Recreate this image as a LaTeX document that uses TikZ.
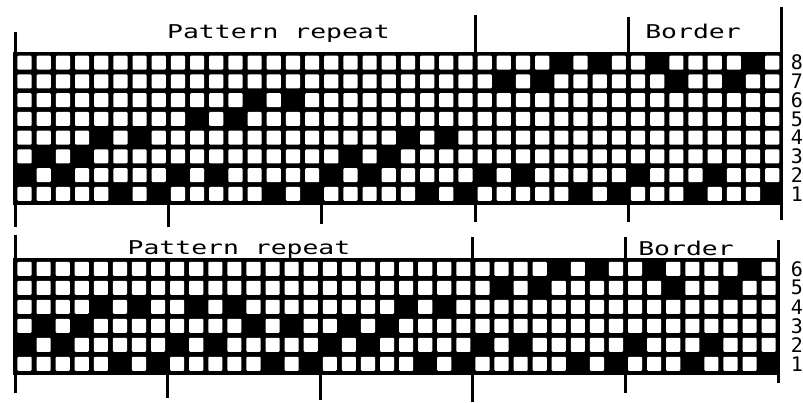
\documentclass[tikz,border=0pt]{standalone}
\usepackage{fontspec}
\setmonofont{DejaVu Sans Mono}
\usetikzlibrary{positioning}

\newcommand{\wide}[1]{\scalebox{1.39}[1]{#1}}

\begin{document}
\begin{tikzpicture}[
        x=1pt, y=-1pt,
        every node/.style={inner sep=0pt},
        title/.style={font=\ttfamily\fontsize{19}{19}\selectfont, anchor=base},
        rowno/.style={font=\ttfamily\fontsize{20}{20}\selectfont},
        tick/.style={line width=3pt},
        hole/.style={fill=white, rounded corners=1pt}
    ]
    \fill[white] (0,0) rectangle (803,403);
    \useasboundingbox (0,0) rectangle (803,403);

    % Upper draft: 8 shafts
    \begin{scope}[shift={(15,53.3)}, x=19.17pt, y=-18.75pt]
        \fill (-0.08,-0.08) rectangle (40.08,8.08);
        \foreach \c in {0,...,39}
            \foreach \r in {0,...,7}
                \fill[hole] (\c+0.13,\r+0.13) rectangle (\c+0.87,\r+0.87);
        \foreach \r/\cols in {0/{28,30,33,38}, 1/{25,27,34,37}, 2/{12,14},
                3/{9,11}, 4/{4,6,20,22}, 5/{1,3,17,19},
                6/{0,2,8,10,16,18,24,26,32,36},
                7/{5,7,13,15,21,23,29,31,35,39}}
            \foreach \c in \cols
                \fill (\c,\r) rectangle (\c+1,\r+1);
        % marks
        \draw[tick] (0,-1.14) -- (0,9.26);
        \draw[tick] (8,8) -- (8,9.26);
        \draw[tick] (16,8) -- (16,9.1);
        \draw[tick] (24,-2.04) -- (24,0);
        \draw[tick] (24,8) -- (24,9.0);
        \draw[tick] (32,-1.94) -- (32,0);
        \draw[tick] (32,8) -- (32,9.0);
        \draw[tick] (40,-2.47) -- (40,8.9);
    \end{scope}

    % Lower draft: 6 shafts
    \begin{scope}[shift={(15,259.3)}, x=19.08pt, y=-19pt]
        \fill (-0.08,-0.08) rectangle (40.08,6.08);
        \foreach \c in {0,...,39}
            \foreach \r in {0,...,5}
                \fill[hole] (\c+0.13,\r+0.13) rectangle (\c+0.87,\r+0.87);
        \foreach \r/\cols in {0/{28,30,33,38}, 1/{25,27,34,37},
                2/{4,6,9,11,20,22}, 3/{1,3,12,14,17,19},
                4/{0,2,8,10,16,18,24,26,32,36},
                5/{5,7,13,15,21,23,29,31,35,39}}
            \foreach \c in \cols
                \fill (\c,\r) rectangle (\c+1,\r+1);
        % marks
        \draw[tick] (0,-1.28) -- (0,7.04);
        \draw[tick] (8,6) -- (8,7.3);
        \draw[tick] (16,6) -- (16,7.4);
        \draw[tick] (24,-1.17) -- (24,0);
        \draw[tick] (24,6) -- (24,7.5);
        \draw[tick] (32,-1.17) -- (32,0);
        \draw[tick] (32,6) -- (32,7.04);
        \draw[tick] (40,-1.0) -- (40,6.5);
    \end{scope}

    % Labels
    \node[title] (toprepeat) at (278.5,39) {\wide{Pattern repeat}};
    \node[title] (topborder) at (693,39) {\wide{Border}};
    \node[title] (botrepeat) at (239,255) {\wide{Pattern repeat}};
    \node[title] (botborder) at (686,256) {\wide{Border}};

    \foreach \n [count=\i] in {8,7,6,5,4,3,2,1}
        \node[rowno] (top\n) at (797,53.3+18.75*\i-9.375) {\n};
    \foreach \n [count=\i] in {6,5,4,3,2,1}
        \node[rowno] (bot\n) at (797,259.3+19*\i-9.5) {\n};
\end{tikzpicture}
\end{document}
